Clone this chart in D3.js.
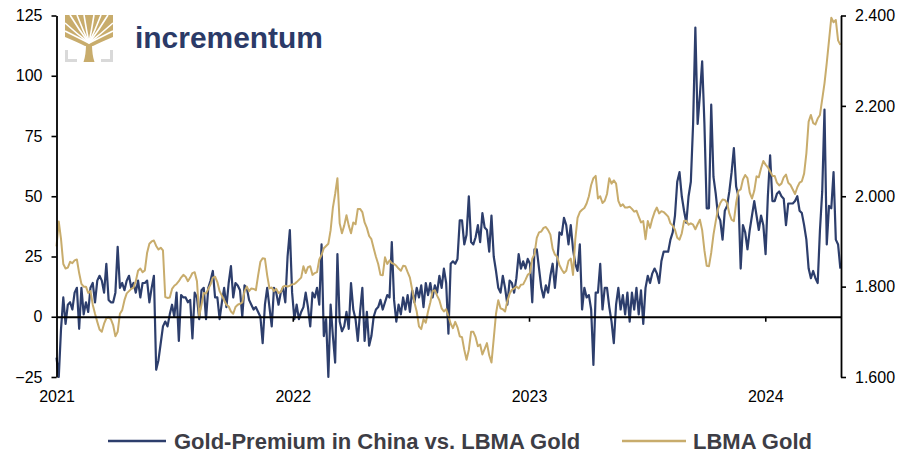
<!DOCTYPE html>
<html>
<head>
<meta charset="utf-8">
<script src="https://cdn.jsdelivr.net/npm/d3@7"></script>
<style>
  body { margin: 0; background: #fff; }
  text { font-family: "Liberation Sans", Arial, sans-serif; }
</style>
</head>
<body>
<svg id="chart" width="915" height="454"></svg>
<script>
// Observations every 3.5 days starting 1 Jan 2021
const startDate = new Date(2021, 0, 1);
const stepDays = 3.5;

// Gold premium in China vs. LBMA gold (USD/oz, left axis)
const premium = [
  -17, -25, -5, 8, -3, 5, 6, 3, 10, 12,
  -5, 12, 1, 6, 2, 12, 14, 6, 15, 17,
  15, 10, 22, 7, 6, 6, 10, 29, 12, 14,
  11, 15, 17, 12, 14, 10, 15, 8, 14, 14,
  15, 6, 12, 17, -22, -18, -11, -4, -2, -4,
  1, 5, 0, 10, -10, 9, 8, 8, 6, 7,
  -9, 10, 8, -1, 11, 12, -1, 12, 15, 19,
  8, 8, -1, 6, 12, 4, 14, 21, 8, 14,
  13, 11, 0, 13, 12, 7, 5, 3, 4, 2,
  0, -11, 5, 12, 4, -4, 12, 10, 5, 10,
  12, 6, 25, 36, 10, -1, 5, -1, 2, 4,
  10, 4, -4, 10, 8, 12, 5, 30, -8, -1,
  -25, 5, -8, -19, 26, -2, -6, -4, 2, -5,
  14, 3, -1, -10, 2, 12, -10, 2, -12, -8,
  0, 3, 4, 7, 3, 6, 9, 8, 31, 7,
  -2, 5, 1, 8, 3, 9, 2, 11, 6, 12,
  8, 13, 4, 14, 9, 14, 8, 13, 10, 17,
  12, 20, 14, -7, 22, 23, 22, 24, 40, 40,
  30, 34, 50, 31, 30, 33, 38, 31, 43, 37,
  36, 27, 42, 25, 19, 12, 10, 17, 12, 5,
  15, 14, 10, 16, 26, 20, 23, 20, 24, 22,
  6, 28, 28, 20, 12, 8, 13, 10, 17, 22,
  12, 22, 35, 34, 41, 38, 30, 38, 28, 22,
  19, 30, 3, 12, 8, 9, 3, -20, 10, 10,
  22, 3, 12, 12, 4, -2, -11, 5, 12, 3,
  9, 1, 10, -2, 10, 3, 12, 1, 11, -3,
  12, 17, 14, 18, 20, 18, 14, 23, 27, 27,
  27, 32, 35, 42, 56, 60, 50, 44, 39, 50,
  56, 80, 120, 80, 92, 106, 80, 45, 45, 88,
  58, 51, 42, 40, 32, 44, 46, 52, 60, 70,
  54, 50, 20, 38, 35, 28, 36, 42, 48, 42,
  36, 42, 38, 26, 50, 67, 48, 48, 51, 52,
  50, 49, 38, 47, 47, 47, 48, 50, 44, 43,
  38, 32, 20, 16, 19, 16, 14, 36, 52, 86,
  30, 46, 45, 60, 32, 30, 20
];

// LBMA gold price (USD/oz, right axis)
const gold = [
  1889, 1944, 1905, 1850, 1840, 1842, 1855, 1852, 1858, 1860,
  1830, 1806, 1800, 1800, 1786, 1790, 1760, 1740, 1722, 1705,
  1700, 1718, 1730, 1732, 1728, 1715, 1690, 1700, 1740, 1748,
  1770, 1785, 1790, 1795, 1798, 1812, 1835, 1840, 1832, 1836,
  1875, 1895, 1900, 1902, 1890, 1882, 1886, 1880, 1777, 1775,
  1776, 1795, 1802, 1806, 1812, 1820, 1826, 1822, 1812, 1820,
  1830, 1832, 1812, 1735, 1760, 1786, 1785, 1795, 1805, 1820,
  1822, 1810, 1790, 1780, 1770, 1760, 1756, 1745, 1740, 1755,
  1760, 1762, 1765, 1790, 1800, 1790, 1796, 1795, 1792, 1825,
  1855, 1863, 1862, 1825, 1796, 1798, 1790, 1795, 1786, 1788,
  1800, 1802, 1800, 1802, 1805, 1806, 1810, 1815, 1820, 1845,
  1830, 1843, 1845, 1826, 1830, 1832, 1860, 1870, 1885, 1890,
  1895, 1925, 1975, 2005, 2040, 1940, 1918, 1935, 1958, 1935,
  1918, 1942, 1938, 1972, 1972, 1965, 1942, 1930, 1912, 1905,
  1885, 1866, 1850, 1826, 1825, 1865, 1850, 1858, 1852, 1850,
  1846, 1840, 1835, 1846, 1845, 1832, 1820, 1793, 1765, 1745,
  1712, 1706, 1728, 1720, 1745, 1765, 1790, 1792, 1780, 1770,
  1752, 1745, 1750, 1735, 1718, 1708, 1722, 1710, 1690, 1688,
  1660, 1638, 1660, 1700, 1700, 1688, 1668, 1672, 1650, 1662,
  1675, 1648, 1632, 1685, 1740, 1770, 1752, 1750, 1745, 1768,
  1784, 1793, 1796, 1800, 1796, 1804, 1805, 1815, 1826, 1830,
  1862, 1872, 1908, 1920, 1922, 1930, 1932, 1925, 1915, 1884,
  1871, 1866, 1848, 1838, 1830, 1835, 1857, 1862, 1826, 1905,
  1952, 1965, 1970, 1974, 1984, 2000, 2025, 2040, 2045, 1995,
  2000, 1985, 1990, 2005, 2040, 2028, 2035, 2028, 1990, 1978,
  1982, 1975, 1975, 1977, 1972, 1966, 1968, 1955, 1942, 1945,
  1905, 1945, 1930, 1950, 1965, 1975, 1962, 1967, 1965, 1960,
  1955, 1940, 1935, 1926, 1908, 1904, 1918, 1945, 1946, 1937,
  1940, 1937, 1927, 1938, 1948, 1925, 1880, 1846, 1845, 1875,
  1915, 1945, 1972, 1985, 1993, 1992, 1985, 1962, 1948, 1945,
  1985, 2012, 2015, 2037, 2047, 2040, 2008, 1995, 2012, 2044,
  2042, 2062, 2078, 2070, 2064, 2055, 2045, 2045, 2030, 2024,
  2028, 2042, 2048, 2030, 2025, 2015, 2005, 2020, 2030, 2033,
  2050, 2095, 2165, 2180, 2162, 2159, 2172, 2180, 2215, 2250,
  2295, 2345, 2395, 2385, 2390, 2345, 2335
];

const leftTicks = [-25, 0, 25, 50, 75, 100, 125];
const rightTicks = [1600, 1800, 2000, 2200, 2400];
const yearTicks = [2021, 2022, 2023, 2024];
const seriesNames = ["Gold-Premium in China vs. LBMA Gold", "LBMA Gold"];

const navy = "#2d3e6c";
const sand = "#c8ac6c";

const svg = d3.select("#chart");
const plotLeft = 56.5, plotRight = 841, plotTop = 15.5, plotBottom = 377;

const dates = premium.map((_, i) => new Date(startDate.getTime() + i * stepDays * 864e5));

const x = d3.scaleTime()
  .domain([new Date(2021, 0, 1), new Date(2024, 3, 27)])
  .range([plotLeft, plotRight]);
const yL = d3.scaleLinear().domain([-25, 125]).range([plotBottom, plotTop]);
const yR = d3.scaleLinear().domain([1600, 2400]).range([plotBottom, plotTop]);

const de = d3.formatLocale({ decimal: ",", thousands: ".", grouping: [3], currency: ["", ""] });
const fmtR = de.format(",.0f");

// series
const linePrem = d3.line().x((d, i) => x(dates[i])).y(d => yL(d));
const lineGold = d3.line().x((d, i) => x(dates[i])).y(d => yR(d));

svg.append("path").datum(premium)
  .attr("d", linePrem).attr("fill", "none")
  .attr("stroke", navy).attr("stroke-width", 2.2).attr("stroke-linejoin", "round");
svg.append("path").datum(gold)
  .attr("d", lineGold).attr("fill", "none")
  .attr("stroke", sand).attr("stroke-width", 2).attr("stroke-linejoin", "round");

// left axis
const gL = svg.append("g").attr("transform", `translate(${plotLeft},0)`)
  .call(d3.axisLeft(yL).tickValues(leftTicks).tickSize(5).tickSizeOuter(0).tickPadding(9));
// right axis
const gR = svg.append("g").attr("transform", `translate(${plotRight},0)`)
  .call(d3.axisRight(yR).tickValues(rightTicks).tickFormat(fmtR).tickSize(5).tickSizeOuter(0).tickPadding(9));

// zero line with year ticks
const yearDates = yearTicks.map(y => new Date(y, 0, 1));
const gZ = svg.append("g").attr("transform", `translate(0,${yL(0)})`)
  .call(d3.axisBottom(x).tickValues(yearDates.slice(1)).tickSize(5).tickSizeOuter(0).tickFormat(""));

// year labels along the bottom
const gX = svg.append("g").attr("transform", `translate(0,${plotBottom + 8})`)
  .call(d3.axisBottom(x).tickValues(yearDates).tickSize(0).tickPadding(6).tickFormat(d3.timeFormat("%Y")));
gX.select(".domain").remove();

[gL, gR, gZ, gX].forEach(g => {
  g.selectAll("text").attr("font-size", 16).attr("fill", "#000")
    .attr("font-family", "'Liberation Sans', Arial, sans-serif");
  g.selectAll("line").attr("stroke", "#000").attr("stroke-width", 1.6);
  g.select(".domain").attr("stroke", "#000").attr("stroke-width", 1.8);
});
gZ.select(".domain").attr("stroke-width", 2.2);

// legend
const legend = svg.append("g");
const legendItems = [
  { name: seriesNames[0], color: navy, x0: 108, x1: 166, tx: 174 },
  { name: seriesNames[1], color: sand, x0: 622, x1: 686, tx: 693 }
];
legendItems.forEach(it => {
  legend.append("line").attr("x1", it.x0).attr("x2", it.x1)
    .attr("y1", 441).attr("y2", 441)
    .attr("stroke", it.color).attr("stroke-width", 2.5);
  legend.append("text").attr("x", it.tx).attr("y", 449)
    .attr("font-size", 22).attr("font-weight", "bold").attr("fill", "#3d3d45")
    .text(it.name);
});

// logo: tree mark and wordmark
const logo = svg.append("g").attr("transform", "translate(65,15)");
// square crown filled with branches that spread from the trunk
logo.append("path")
  .attr("d", "M0,0 H48 V22 Q36,27 28,31 H20 Q12,27 0,22 Z")
  .attr("fill", sand);
const gaps = [[5, 0], [12, 0], [19, 0], [29, 0], [36, 0], [43, 0],
              [0, 8], [0, 16], [48, 8], [48, 16]];
gaps.forEach(([tx, ty]) => {
  const mx = 24 + (tx - 24) * 0.5, my = 26 + (ty - 26) * 0.4;
  logo.append("path")
    .attr("d", `M24,28 Q${mx},${my} ${tx},${ty}`)
    .attr("fill", "none").attr("stroke", "#fff").attr("stroke-width", 1.6);
});
logo.append("path")
  .attr("d", "M18.5,47 Q21,40 21,29 L27,29 Q27,40 29.5,47 Z")
  .attr("fill", sand);
logo.append("path").attr("d", "M1.5,35 V45.5 H12").attr("fill", "none")
  .attr("stroke", "#d9d9d9").attr("stroke-width", 3);
logo.append("path").attr("d", "M46.5,35 V45.5 H36").attr("fill", "none")
  .attr("stroke", "#d9d9d9").attr("stroke-width", 3);

svg.append("text").attr("x", 135).attr("y", 48)
  .attr("font-size", 29).attr("font-weight", "bold").attr("fill", "#2b3a67")
  .attr("textLength", 188).attr("lengthAdjust", "spacingAndGlyphs")
  .text("incrementum");
</script>
</body>
</html>
